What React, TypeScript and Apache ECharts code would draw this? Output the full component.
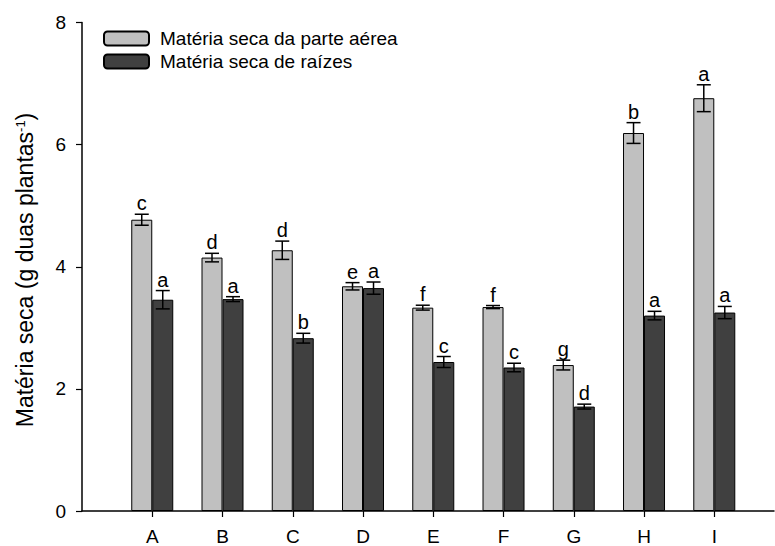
import React, { useEffect, useRef } from "react";
import * as echarts from "echarts";

const categories = ["A", "B", "C", "D", "E", "F", "G", "H", "I"];
const seriesNames = ["Matéria seca da parte aérea", "Matéria seca de raízes"];
const shootMeans = [4.77, 4.15, 4.27, 3.68, 3.33, 3.34, 2.39, 6.19, 6.76];
const shootErrors = [0.09, 0.07, 0.15, 0.06, 0.04, 0.025, 0.08, 0.17, 0.22];
const shootLetters = ["c", "d", "d", "e", "f", "f", "g", "b", "a"];
const rootMeans = [3.46, 3.47, 2.83, 3.65, 2.44, 2.35, 1.71, 3.2, 3.25];
const rootErrors = [0.15, 0.04, 0.08, 0.1, 0.09, 0.07, 0.04, 0.07, 0.1];
const rootLetters = ["a", "a", "b", "a", "c", "c", "d", "a", "a"];
const yTicks = [0, 2, 4, 6, 8];

const FONT = "'Liberation Sans', Arial, Helvetica, sans-serif";
const BAR_W = 21;

function errorSeries(means: number[], errs: number[], letters: string[], offset: number) {
  return {
    type: "custom",
    silent: true,
    clip: false,
    z: 10,
    encode: { x: 0, y: 1 },
    data: means.map((m, i) => [i + 1, m, errs[i]]),
    renderItem: (params: any, api: any) => {
      const x = api.value(0);
      const m = api.value(1);
      const e = api.value(2);
      const letter = letters[params.dataIndex] ?? "";
      const c = api.coord([x, m]);
      const hi = api.coord([x, m + e])[1];
      const lo = api.coord([x, m - e])[1];
      const cx = c[0] + offset;
      const cap = 7;
      const st = { stroke: "#000", lineWidth: 1.5 };
      return {
        type: "group",
        children: [
          { type: "line", shape: { x1: cx, y1: hi, x2: cx, y2: lo }, style: st },
          { type: "line", shape: { x1: cx - cap, y1: hi, x2: cx + cap, y2: hi }, style: st },
          { type: "line", shape: { x1: cx - cap, y1: lo, x2: cx + cap, y2: lo }, style: st },
          {
            type: "text",
            x: cx,
            y: hi - 1,
            style: {
              text: letter,
              fill: "#000",
              font: `20px ${FONT}`,
              textAlign: "center",
              textVerticalAlign: "bottom",
            },
          },
        ],
      };
    },
  };
}

export default function App() {
  const ref = useRef<HTMLDivElement>(null);
  useEffect(() => {
    document.body.style.margin = "0";
    if (!ref.current) return;
    const chart = echarts.init(ref.current, null, { renderer: "svg" });
    const idx = categories.map((_, i) => i + 1);
    chart.setOption({
      animation: false,
      backgroundColor: "#fff",
      textStyle: { fontFamily: FONT },
      grid: { left: 82, right: 1, top: 22.5, bottom: 34, containLabel: false },
      legend: {
        show: true,
        orient: "vertical",
        left: 103,
        top: 29,
        padding: 0,
        itemWidth: 45,
        itemHeight: 14,
        itemGap: 4,
        data: seriesNames,
        textStyle: { fontSize: 19, color: "#000", fontFamily: FONT, padding: [0, 0, 0, 6] },
      },
      xAxis: {
        type: "value",
        min: 0,
        max: 9.85,
        interval: 1,
        splitLine: { show: false },
        axisLine: { show: true, onZero: false, lineStyle: { color: "#000", width: 1.5 } },
        axisTick: { show: true, length: 6, customValues: idx, lineStyle: { color: "#000", width: 1.2 } },
        axisLabel: {
          customValues: idx,
          margin: 16,
          fontSize: 19,
          color: "#000",
          fontFamily: FONT,
          formatter: (v: number) => categories[Math.round(v) - 1] ?? "",
        },
      },
      yAxis: {
        type: "value",
        min: 0,
        max: 8,
        interval: 2,
        splitLine: { show: false },
        axisLine: { show: true, lineStyle: { color: "#000", width: 1.5 } },
        axisTick: { show: true, length: 6, lineStyle: { color: "#000", width: 1.2 } },
        axisLabel: {
          margin: 16,
          fontSize: 19,
          color: "#000",
          fontFamily: FONT,
          customValues: yTicks,
        },
      },
      graphic: [
        {
          type: "text",
          x: 25,
          y: 270,
          rotation: Math.PI / 2,
          style: {
            text: "{t|Matéria seca (g duas plantas}{s|-1}{t|)}",
            textAlign: "center",
            textVerticalAlign: "middle",
            fill: "#000",
            rich: {
              t: { fontSize: 23, fontFamily: FONT, fill: "#000" },
              s: { fontSize: 13, fontFamily: FONT, fill: "#000", verticalAlign: "top" },
            },
          },
        },
      ],
      series: [
        {
          name: seriesNames[0],
          type: "bar",
          barWidth: BAR_W,
          barGap: "0%",
          itemStyle: { color: "#c0c0c0", borderColor: "#000", borderWidth: 1 },
          data: shootMeans.map((v, i) => [i + 1, v]),
        },
        {
          name: seriesNames[1],
          type: "bar",
          barWidth: BAR_W,
          barGap: "0%",
          itemStyle: { color: "#404040", borderColor: "#000", borderWidth: 1 },
          data: rootMeans.map((v, i) => [i + 1, v]),
        },
        errorSeries(shootMeans, shootErrors, shootLetters, -BAR_W / 2),
        errorSeries(rootMeans, rootErrors, rootLetters, BAR_W / 2),
      ],
    });
    return () => chart.dispose();
  }, []);
  return <div ref={ref} style={{ width: 775, height: 546 }} />;
}
